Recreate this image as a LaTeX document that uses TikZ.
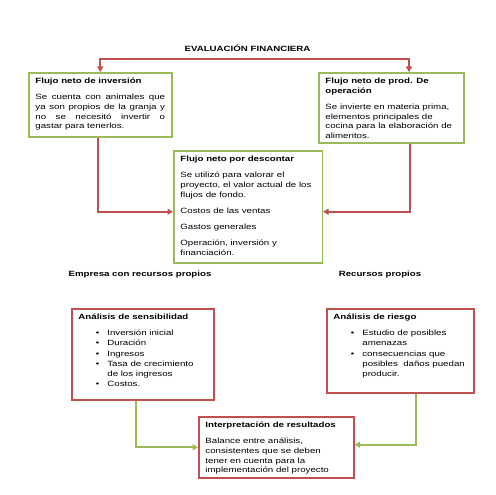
\documentclass[tikz,border=0pt]{standalone}
\usepackage{fontspec}
\setmainfont{Liberation Sans}
\usepackage{graphicx}
\usepackage{tikz}
\usetikzlibrary{arrows.meta,positioning}
\definecolor{boxgreen}{HTML}{9BBB59}
\definecolor{boxred}{HTML}{C0504D}
\newcommand{\wide}[1]{\scalebox{1.276}[1]{#1}}
\newcommand{\boxtext}[3]{\wide{\parbox[c][#2][t]{#1}{\lineskiplimit=-5pt\strut#3}}}
\newcommand{\gap}{\par\vspace{6.4pt}}
\renewcommand{\arraystretch}{1.05}
\tikzset{
  every node/.style={font=\fontsize{7.6}{9.8}\selectfont},
  panel/.style={line width=1.5pt, fill=white, anchor=north west, inner xsep=6.7pt, inner ysep=3.7pt},
  greenpanel/.style={panel, draw=boxgreen},
  redpanel/.style={panel, draw=boxred},
  heading/.style={font=\fontsize{7.6}{9.8}\selectfont\bfseries},
  redarrow/.style={draw=boxred, line width=1.8pt, -{Triangle[length=5.5pt,width=6pt]}},
  greenarrow/.style={draw=boxgreen, line width=1.8pt, -{Triangle[length=5.5pt,width=6pt]}}
}

\begin{document}
\begin{tikzpicture}[x=1pt,y=-1pt]
  \path[use as bounding box, fill=white] (0,0) rectangle (495,495);
  \node[heading] (eval) at (247.5,48) {\wide{EVALUACIÓN FINANCIERA}};
  \coordinate (split) at (254,59);
  % upper part
  \node[greenpanel] (inv) at (28,72) {\boxtext{101.6pt}{56.6pt}{%
    \textbf{Flujo neto de inversión}\gap
    Se cuenta con animales que\linebreak ya son propios de la granja y\linebreak
    no se necesitó invertir o\linebreak gastar para tenerlos.}};
  \node[greenpanel] (prod) at (318,72) {\boxtext{103.5pt}{62.6pt}{%
    \textbf{Flujo neto de prod. De\\ operación}\gap
    Se invierte en materia prima,\\ elementos principales de\\
    cocina para la elaboración de\\ alimentos.}};
  \node[greenpanel] (desc) at (173,150) {\boxtext{105.9pt}{104.6pt}{%
    \textbf{Flujo neto por descontar}\gap
    Se utilizó para valorar el\\ proyecto, el valor actual de los\\ flujos de fondo.\gap
    Costos de las ventas\gap
    Gastos generales\gap
    Operación, inversión y\\ financiación.}};
  \draw[redarrow] (split) -| (inv.north);
  \draw[redarrow] (split) -| ([xshift=17.5pt]prod.north);
  \draw[redarrow] ([xshift=-2pt]inv.south) |- ([yshift=-5pt]desc.west);
  \draw[redarrow] ([xshift=18.5pt]prod.south) |- ([yshift=-5pt]desc.east);
  \node[heading] (empresa) at (140,275) {\wide{Empresa con recursos propios}};
  \node[heading] (recursos) at (380,275) {\wide{Recursos propios}};
  % lower part
  \node[redpanel] (sens) at (71,308) {\boxtext{100.8pt}{83.6pt}{%
    \textbf{Análisis de sensibilidad}\gap
    \begin{tabular}[t]{@{\hspace{13.6pt}}l@{\hspace{6.4pt}}l@{}}
      \textbullet & Inversión inicial\\
      \textbullet & Duración\\
      \textbullet & Ingresos\\
      \textbullet & Tasa de crecimiento\\
                  & de los ingresos\\
      \textbullet & Costos.
    \end{tabular}}};
  \node[redpanel] (riesgo) at (326,308) {\boxtext{104.7pt}{76.6pt}{%
    \textbf{Análisis de riesgo}\gap
    \begin{tabular}[t]{@{\hspace{13.6pt}}l@{\hspace{6.4pt}}l@{}}
      \textbullet & Estudio de posibles\\
                  & amenazas\\
      \textbullet & consecuencias que\\
                  & posibles\ \ daños puedan\\
                  & producir.
    \end{tabular}}};
  \node[redpanel] (interp) at (198,416) {\boxtext{111pt}{53.6pt}{%
    \textbf{Interpretación de resultados}\gap
    Balance entre análisis,\\ consistentes que se deben\\
    tener en cuenta para la\\ implementación del proyecto}};
  \draw[greenarrow] ([xshift=-7pt]sens.south) |- (interp.west);
  \draw[greenarrow] ([xshift=15.5pt]riesgo.south) |- ([yshift=2.5pt]interp.east);
\end{tikzpicture}
\end{document}
